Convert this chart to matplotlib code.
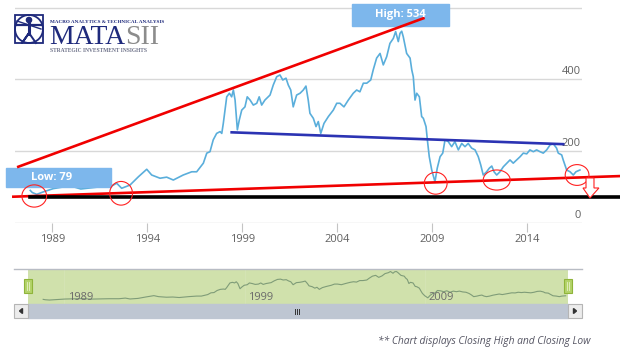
import numpy as np
import matplotlib.pyplot as plt
from matplotlib.patches import Ellipse, Rectangle, Circle, Polygon

plt.rcParams['font.family'] = ['Open Sans', 'DejaVu Sans']

# closing values (decimal year, close)
years = [1987.84, 1987.95, 1988.18, 1988.53, 1989.05, 1989.5, 1990.0, 1990.5, 1991.0, 1991.5,
         1992.04, 1992.39, 1992.65, 1993.09, 1993.53, 1993.97, 1994.23, 1994.67, 1995.02, 1995.37,
         1995.89, 1996.34, 1996.60, 1996.95, 1997.13, 1997.30, 1997.47, 1997.65, 1997.83, 1997.92,
         1998.00, 1998.18, 1998.32, 1998.44, 1998.53, 1998.62, 1998.74, 1998.84, 1998.97, 1999.14,
         1999.26, 1999.41, 1999.58, 1999.76, 1999.89, 2000.02, 2000.19, 2000.46, 2000.63, 2000.81,
         2000.98, 2001.13, 2001.30, 2001.42, 2001.55, 2001.68, 2001.86, 2002.04, 2002.21, 2002.35,
         2002.47, 2002.56, 2002.74, 2002.88, 2003.00, 2003.13, 2003.30, 2003.53, 2003.79, 2003.97,
         2004.14, 2004.35, 2004.58, 2004.84, 2005.02, 2005.19, 2005.37, 2005.55, 2005.76, 2005.89,
         2006.07, 2006.25, 2006.42, 2006.60, 2006.77, 2006.95, 2007.07, 2007.21, 2007.30, 2007.39,
         2007.47, 2007.65, 2007.83, 2007.92, 2008.00, 2008.09, 2008.18, 2008.32, 2008.44, 2008.53,
         2008.67, 2008.74, 2008.84, 2008.97, 2009.14, 2009.26, 2009.41, 2009.55, 2009.67, 2009.84,
         2010.02, 2010.19, 2010.37, 2010.55, 2010.72, 2010.89, 2011.07, 2011.25, 2011.42, 2011.55,
         2011.68, 2011.86, 2012.00, 2012.13, 2012.25, 2012.39, 2012.56, 2012.74, 2012.92, 2013.09,
         2013.26, 2013.44, 2013.62, 2013.79, 2013.97, 2014.14, 2014.32, 2014.49, 2014.67, 2014.84,
         2015.02, 2015.20, 2015.37, 2015.54, 2015.63, 2015.81, 2015.89, 2016.07, 2016.25, 2016.42,
         2016.56, 2016.77]
closes = [90, 84, 79, 86, 95, 99, 102, 94, 97, 100,
          100, 110, 96, 105, 128, 149, 133, 124, 127, 119,
          133, 142, 142, 166, 194, 198, 231, 249, 254, 249,
          277, 351, 361, 351, 370, 342, 259, 286, 314, 323,
          351, 342, 328, 333, 351, 328, 342, 356, 384, 407,
          412, 398, 403, 384, 370, 323, 356, 361, 370, 381,
          342, 305, 291, 268, 282, 249, 277, 296, 314, 333,
          333, 323, 342, 361, 370, 365, 389, 389, 398, 426,
          459, 472, 440, 463, 500, 514, 533, 505, 528, 534,
          519, 472, 459, 426, 407, 342, 361, 351, 296, 291,
          268, 231, 184, 147, 114, 152, 184, 194, 231, 226,
          212, 226, 203, 221, 212, 221, 208, 203, 184, 161,
          133, 142, 152, 158, 142, 133, 142, 156, 166, 175,
          166, 175, 184, 194, 192, 203, 198, 203, 198, 194,
          203, 217, 220, 208, 194, 189, 175, 147, 142, 133,
          142, 147]

x_ticks = [1989, 1994, 1999, 2004, 2009, 2014]
y_ticks = [0, 200, 400, 600]
y_tick_labels = ['0', '200', '400', '']
nav_ticks = [1989, 1999, 2009]

# drawn trend lines: ([year0, year1], [value0, value1])
upper_trend = ([1987.21, 2008.53], [156, 570])
lower_trend = ([1986.95, 2018.88], [72.5, 130])
floor_line = ([1987.84, 2018.88], [71.4, 71.4])
mid_trend = ([1998.44, 2015.89], [252, 219])

# circled lows: (year, value, width in years, height in value units)
circled = [(1988.05, 74.5, 1.3, 62), (1992.62, 82, 1.2, 66), (2009.18, 110, 1.2, 61),
           (2012.39, 119, 1.42, 56), (2016.62, 133, 1.25, 58)]

# down arrow outline past the last low
arrow_x = [2017.09, 2017.51, 2017.51, 2017.77, 2017.30, 2016.93, 2017.09]
arrow_y = [124.7, 124.7, 96.8, 96.8, 68.9, 96.8, 96.8]

high_label = "High: 534"
low_label = "Low: 79"

W, H = 620, 355
fig = plt.figure(figsize=(W / 100, H / 100), dpi=100)

# pixel overlay for logo, navigator chrome and caption
ov = fig.add_axes([0, 0, 1, 1], zorder=0)
ov.set_xlim(0, W)
ov.set_ylim(H, 0)
ov.axis('off')

navy = '#1f2a7c'
# logo icon
ov.add_patch(Rectangle((15, 15), 28, 28, fill=False, ec=navy, lw=1.3))
ov.add_patch(Circle((29, 29), 14, fill=False, ec=navy, lw=1.3))
ov.add_patch(Circle((29, 20), 2.6, color=navy))
ov.plot([29, 29], [22, 34], color=navy, lw=2.2)
ov.plot([17, 41], [25, 25], color=navy, lw=1.6)
ov.plot([17, 41], [21, 29], color=navy, lw=1.0)
ov.plot([29, 22, 29, 36], [33, 43, 33, 43], color=navy, lw=1.4)
ov.text(50, 22, "MACRO ANALYTICS & TECHNICAL ANALYSIS", family='Liberation Serif',
        weight='bold', fontsize=3.7, color=navy, va='center', ha='left')
ov.text(125, 43.5, "MATA", family='Liberation Serif', fontsize=20, color=navy,
        va='baseline', ha='right')
ov.text(125, 43.5, "SII", family='Liberation Serif', fontsize=20, color='#8c8c8c',
        va='baseline', ha='left')
ov.text(50, 51, "STRATEGIC INVESTMENT INSIGHTS", family='Liberation Serif',
        weight='bold', fontsize=4.0, color='#6b6f86', va='center', ha='left')

# navigator chrome
ov.plot([14, 582], [268.5, 268.5], color='#b8bcc4', lw=1)
ov.add_patch(Rectangle((28, 304), 540, 14, color='#bec6d2', zorder=2))
for bx in (14, 568):
    ov.add_patch(Rectangle((bx, 304), 14, 14, fc='#ececec', ec='#b5b5b5', lw=0.8, zorder=3))
ov.add_patch(Polygon([(22.5, 308.5), (22.5, 313.5), (19.5, 311)], color='#333333', zorder=4))
ov.add_patch(Polygon([(573.5, 308.5), (573.5, 313.5), (576.5, 311)], color='#333333', zorder=4))
for gx in (295, 297, 299):
    ov.plot([gx, gx], [308.5, 313.5], color='#333333', lw=0.7, zorder=4)
ov.text(590, 341, "** Chart displays Closing High and Closing Low", fontsize=7.4,
        style='italic', color='#555563', ha='right', va='center')

# main chart
ax = fig.add_axes([15 / W, (H - 222.7) / H, 567 / W, 222.7 / H], zorder=1)
ax.patch.set_alpha(0)
ax.set_xlim(1987.037, 2016.879)
ax.set_ylim(0, 621)
for s in ax.spines.values():
    s.set_visible(False)
ax.set_yticks(y_ticks)
ax.yaxis.grid(True, color='#d8d8d8', lw=1)
ax.tick_params(axis='y', length=0, labelleft=False)
ax.set_xticks(x_ticks)
ax.set_xticklabels([str(t) for t in x_ticks])
ax.tick_params(axis='x', length=6.5, width=0.8, color='#c4c4c4', pad=1.5,
               labelsize=8, labelcolor='#606060')
for v, lbl in zip(y_ticks, y_tick_labels):
    ax.annotate(lbl, xy=(1, v), xycoords=ax.get_yaxis_transform(), xytext=(-1, 1.5),
                textcoords='offset points', ha='right', va='bottom', fontsize=8,
                color='#606060')

# label boxes sit under the trend lines, text on top
ax.add_patch(Rectangle((2004.78, 549.4), 5.1, 61.3, color='#7db7ec', zorder=3.5, clip_on=False))
ax.text(2007.33, 580, high_label, color='white', weight='bold', fontsize=8,
        ha='center', va='center', zorder=7)
ax.add_patch(Rectangle((1986.56, 99.6), 5.53, 53, color='#7db7ec', zorder=3.5, clip_on=False))
ax.text(1988.94, 126, low_label, color='white', weight='bold', fontsize=8,
        ha='center', va='center', zorder=7, clip_on=False)

ax.plot(years, closes, color='#5aaedb', lw=1.2, zorder=3)
ax.plot(*upper_trend, color='#f00000', lw=1.9, zorder=4, clip_on=False)
ax.plot(*lower_trend, color='#f00000', lw=1.9, zorder=4, clip_on=False)
ax.plot(*floor_line, color='black', lw=2.6, zorder=4, clip_on=False)
ax.plot(*mid_trend, color='#2b33b3', lw=1.9, zorder=4, clip_on=False)
for cx, cy, w, h in circled:
    ax.add_patch(Ellipse((cx, cy), w, h, fill=False, ec='#ff2020', lw=0.8, zorder=5,
                         clip_on=False))
ax.add_patch(Polygon(list(zip(arrow_x, arrow_y)), fc='white', ec='#ff2020', lw=0.8,
                     zorder=5, clip_on=False))

# navigator
nav = fig.add_axes([28 / W, (H - 304) / H, 540 / W, 35.5 / H], zorder=1)
nav.set_facecolor('#d0e1ac')
nav.set_xlim(1987.0, 2016.9)
nav.set_ylim(16, 581)
for s in nav.spines.values():
    s.set_visible(False)
nav.set_xticks([])
nav.set_yticks([])
for t in nav_ticks:
    nav.axvline(t, color='#d6e5b8', lw=0.5)
    nav.annotate(str(t), xy=(t, 0.17), xycoords=nav.get_xaxis_transform(),
                 xytext=(2.5, 0), textcoords='offset points', ha='left', va='center',
                 fontsize=8, color='#6a6a6a')
nav.plot(years, closes, color='#7f9c78', lw=0.8)

# navigator handles
for hx in (24, 564):
    ov.add_patch(Rectangle((hx, 279), 8, 14, fc='#b4d36a', ec='#8fb43a', lw=0.8, zorder=5))
    ov.plot([hx + 3, hx + 3], [282, 290], color='#e6f2c8', lw=0.6, zorder=6)
    ov.plot([hx + 5, hx + 5], [282, 290], color='#e6f2c8', lw=0.6, zorder=6)
ov.set_zorder(2)
ov.patch.set_alpha(0)

fig.savefig('out.png', dpi=100)
